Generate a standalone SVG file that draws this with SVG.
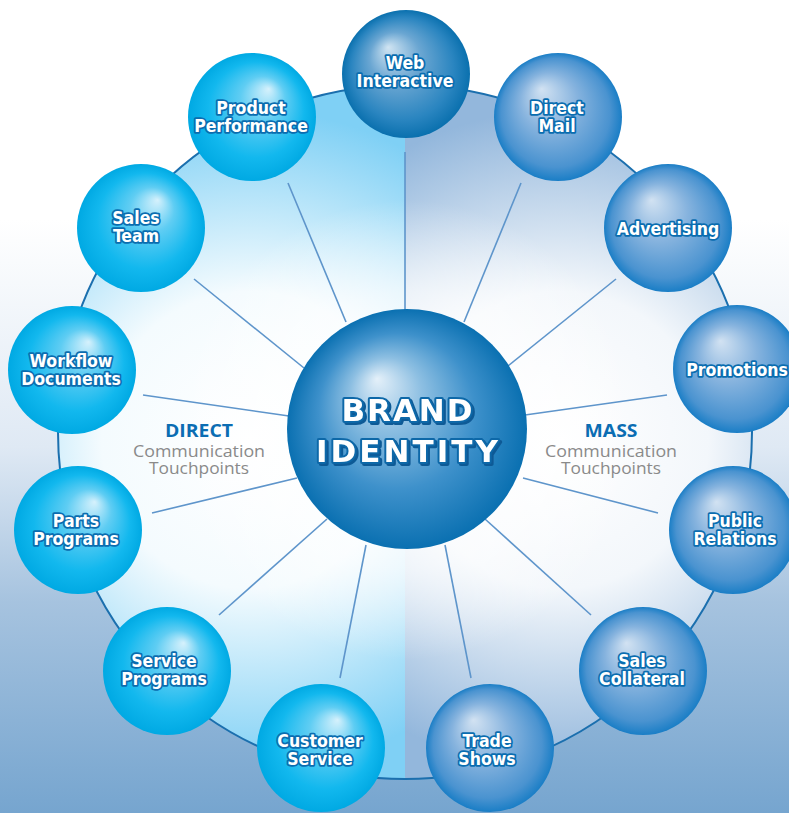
<svg xmlns="http://www.w3.org/2000/svg" width="789" height="813" viewBox="0 0 789 813">
<defs>
<linearGradient id="bg" x1="0" y1="0" x2="0" y2="1">
<stop offset="0" stop-color="#ffffff"/>
<stop offset="0.27" stop-color="#ffffff"/>
<stop offset="0.55" stop-color="#dfe9f4"/>
<stop offset="0.74" stop-color="#a6c3df"/>
<stop offset="1" stop-color="#76a5cf"/>
</linearGradient>
<radialGradient id="halfL" gradientUnits="userSpaceOnUse" cx="250" cy="440" r="330">
<stop offset="0" stop-color="#ffffff"/>
<stop offset="0.45" stop-color="#f4fbfe"/>
<stop offset="1" stop-color="#7fd0f5"/>
</radialGradient>
<radialGradient id="halfR" gradientUnits="userSpaceOnUse" cx="560" cy="440" r="330">
<stop offset="0" stop-color="#ffffff"/>
<stop offset="0.45" stop-color="#f3f7fb"/>
<stop offset="1" stop-color="#93b7dc"/>
</radialGradient>
<radialGradient id="glow" gradientUnits="userSpaceOnUse" cx="407" cy="430" r="230">
<stop offset="0" stop-color="#ffffff" stop-opacity="1"/>
<stop offset="0.6" stop-color="#ffffff" stop-opacity="0.6"/>
<stop offset="1" stop-color="#ffffff" stop-opacity="0"/>
</radialGradient>
<radialGradient id="gCyan" cx="0.5" cy="0.5" r="0.5" fx="0.63" fy="0.28">
<stop offset="0" stop-color="#d6f1fc"/>
<stop offset="0.35" stop-color="#5fcdf3"/>
<stop offset="0.75" stop-color="#12b8ee"/>
<stop offset="1" stop-color="#00a9e3"/>
</radialGradient>
<radialGradient id="gBlue" cx="0.5" cy="0.5" r="0.5" fx="0.37" fy="0.28">
<stop offset="0" stop-color="#d2e2f2"/>
<stop offset="0.45" stop-color="#86b3de"/>
<stop offset="0.85" stop-color="#4a93d0"/>
<stop offset="1" stop-color="#1a7ec6"/>
</radialGradient>
<radialGradient id="gWeb" cx="0.5" cy="0.5" r="0.5" fx="0.36" fy="0.29">
<stop offset="0" stop-color="#d0e4f2"/>
<stop offset="0.4" stop-color="#6aa6d2"/>
<stop offset="0.8" stop-color="#2a85c0"/>
<stop offset="1" stop-color="#0a70ae"/>
</radialGradient>
<radialGradient id="gCenter" cx="0.5" cy="0.5" r="0.5" fx="0.375" fy="0.29">
<stop offset="0" stop-color="#e4f0f9"/>
<stop offset="0.3" stop-color="#8dbfe2"/>
<stop offset="0.65" stop-color="#3e91cb"/>
<stop offset="1" stop-color="#0a70b1"/>
</radialGradient>
<filter id="shadow" x="-10%" y="-20%" width="120%" height="150%">
<feDropShadow dx="2" dy="2" stdDeviation="0" flood-color="#0a5a96" flood-opacity="1"/>
</filter>
<clipPath id="clipL"><rect x="0" y="0" width="405" height="813"/></clipPath>
<clipPath id="clipR"><rect x="405" y="0" width="384" height="813"/></clipPath>
</defs>
<style>
.lbl{font-family:"DejaVu Sans Condensed","DejaVu Sans",sans-serif;font-stretch:condensed;font-weight:bold;font-size:17.5px;fill:#ffffff;stroke:#0a6db0;stroke-width:3.5px;stroke-linejoin:round;paint-order:stroke;text-anchor:middle}
.spoke{stroke:#5e95cb;stroke-width:1.6;fill:none}
.cyan{fill:url(#gCyan)}
.blue{fill:url(#gBlue)}
.big{font-family:"DejaVu Sans",Verdana,sans-serif;font-weight:bold;font-size:31px;text-anchor:middle;fill:#ffffff;stroke:#0b67a8;stroke-width:4px;stroke-linejoin:round;paint-order:stroke}
.hd{font-family:"Open Sans","Liberation Sans",sans-serif;font-weight:bold;font-size:17px;fill:#0b6db3;text-anchor:middle}
.sub{font-family:"Open Sans","Liberation Sans",sans-serif;font-size:17px;fill:#8a8a8a;text-anchor:middle}
</style>
<rect x="0" y="0" width="789" height="813" fill="url(#bg)"/>
<g id="ring">
<circle cx="405" cy="432" r="347" fill="url(#halfL)" clip-path="url(#clipL)"/>
<circle cx="405" cy="432" r="347" fill="url(#halfR)" clip-path="url(#clipR)"/>
<circle cx="407" cy="430" r="230" fill="url(#glow)"/>
<circle cx="405" cy="432" r="347" fill="none" stroke="#1b6fae" stroke-width="2"/>
</g>
<g id="labels-side">
<text class="hd" x="199" y="437" textLength="68" lengthAdjust="spacingAndGlyphs">DIRECT</text>
<text class="sub" x="199" y="457" textLength="132" lengthAdjust="spacingAndGlyphs">Communication</text>
<text class="sub" x="199" y="474" textLength="100" lengthAdjust="spacingAndGlyphs">Touchpoints</text>
<text class="hd" x="611" y="437" textLength="53" lengthAdjust="spacingAndGlyphs">MASS</text>
<text class="sub" x="611" y="457" textLength="132" lengthAdjust="spacingAndGlyphs">Communication</text>
<text class="sub" x="611" y="474" textLength="100" lengthAdjust="spacingAndGlyphs">Touchpoints</text>
</g>
<g id="connectors">
<line class="spoke" x1="405" y1="152" x2="405" y2="312" stroke-width="3"/>
<line class="spoke" x1="288" y1="183" x2="346" y2="322"/>
<line class="spoke" x1="194" y1="279" x2="304" y2="368"/>
<line class="spoke" x1="143" y1="395" x2="289" y2="416"/>
<line class="spoke" x1="152" y1="513" x2="297" y2="478"/>
<line class="spoke" x1="219" y1="615" x2="327" y2="519"/>
<line class="spoke" x1="340" y1="678" x2="366" y2="545"/>
<line class="spoke" x1="471" y1="678" x2="445" y2="545"/>
<line class="spoke" x1="591" y1="615" x2="485" y2="519"/>
<line class="spoke" x1="658" y1="513" x2="523" y2="478"/>
<line class="spoke" x1="667" y1="395" x2="525" y2="415"/>
<line class="spoke" x1="616" y1="279" x2="508" y2="366"/>
<line class="spoke" x1="521" y1="183" x2="464" y2="322"/>
</g>
<g id="brand-identity">
<circle cx="407" cy="429" r="120" fill="url(#gCenter)"/>
<g filter="url(#shadow)">
<text class="big" x="407" y="421" textLength="131" lengthAdjust="spacing">BRAND</text>
<text class="big" x="407" y="462" textLength="182" lengthAdjust="spacing">IDENTITY</text>
</g>
</g>
<g id="web-interactive">
<circle cx="406" cy="74" r="64" fill="url(#gWeb)"/>
<text class="lbl" x="405" y="69">Web</text>
<text class="lbl" x="405" y="87">Interactive</text>
</g>
<g id="product-performance">
<circle cx="252" cy="117" r="64" class="cyan"/>
<text class="lbl" x="251" y="114">Product</text>
<text class="lbl" x="251" y="132">Performance</text>
</g>
<g id="sales-team">
<circle cx="141" cy="228" r="64" class="cyan"/>
<text class="lbl" x="136" y="224">Sales</text>
<text class="lbl" x="136" y="242">Team</text>
</g>
<g id="workflow-documents">
<circle cx="72" cy="370" r="64" class="cyan"/>
<text class="lbl" x="71" y="367">Workflow</text>
<text class="lbl" x="71" y="385">Documents</text>
</g>
<g id="parts-programs">
<circle cx="78" cy="530" r="64" class="cyan"/>
<text class="lbl" x="76" y="527">Parts</text>
<text class="lbl" x="76" y="545">Programs</text>
</g>
<g id="service-programs">
<circle cx="167" cy="671" r="64" class="cyan"/>
<text class="lbl" x="164" y="667">Service</text>
<text class="lbl" x="164" y="685">Programs</text>
</g>
<g id="customer-service">
<circle cx="321" cy="748" r="64" class="cyan"/>
<text class="lbl" x="320" y="747">Customer</text>
<text class="lbl" x="320" y="765">Service</text>
</g>
<g id="trade-shows">
<circle cx="490" cy="748" r="64" class="blue"/>
<text class="lbl" x="487" y="747">Trade</text>
<text class="lbl" x="487" y="765">Shows</text>
</g>
<g id="sales-collateral">
<circle cx="643" cy="671" r="64" class="blue"/>
<text class="lbl" x="642" y="667">Sales</text>
<text class="lbl" x="642" y="685">Collateral</text>
</g>
<g id="public-relations">
<circle cx="733" cy="530" r="64" class="blue"/>
<text class="lbl" x="735" y="527">Public</text>
<text class="lbl" x="735" y="545">Relations</text>
</g>
<g id="promotions">
<circle cx="737" cy="369" r="64" class="blue"/>
<text class="lbl" x="737" y="376">Promotions</text>
</g>
<g id="advertising">
<circle cx="668" cy="228" r="64" class="blue"/>
<text class="lbl" x="668" y="235">Advertising</text>
</g>
<g id="direct-mail">
<circle cx="558" cy="117" r="64" class="blue"/>
<text class="lbl" x="557" y="114">Direct</text>
<text class="lbl" x="557" y="132">Mail</text>
</g>
</svg>
